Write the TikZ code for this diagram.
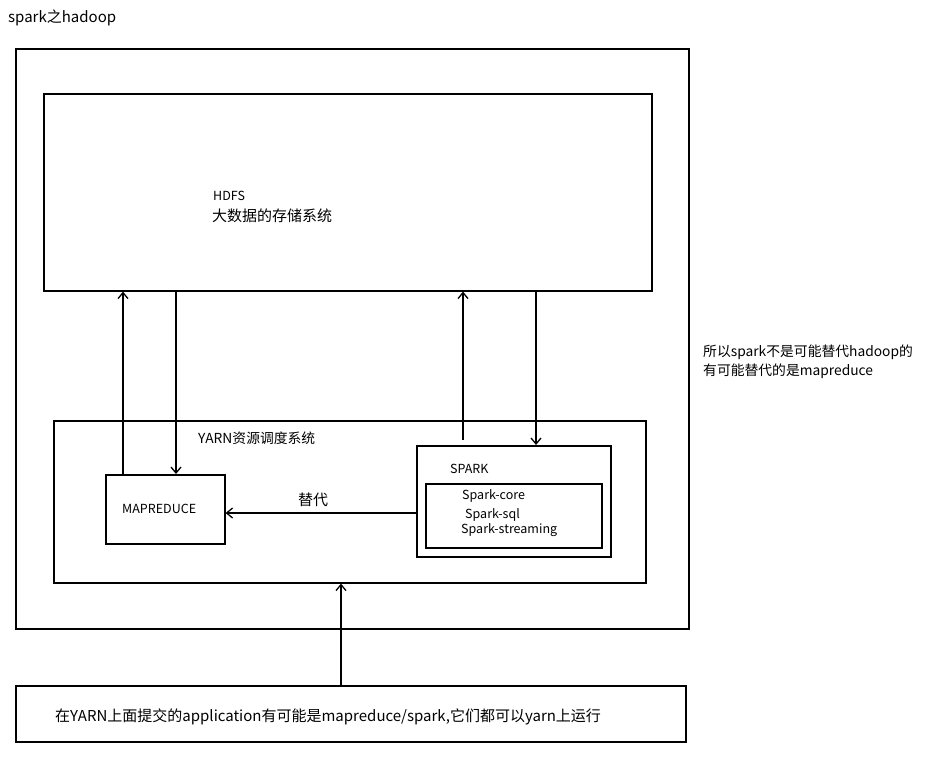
\documentclass[tikz,border=0pt]{standalone}
\usepackage{fontspec}
\setmainfont{Noto Sans CJK SC}
\usetikzlibrary{arrows.meta}
\begin{document}
\begin{tikzpicture}[x=1pt,y=-1pt,
  box/.style={draw,line width=1.6pt,inner sep=0pt,anchor=north west},
  arr/.style={line width=1.3pt,-{Straight Barb[length=6pt,width=10pt,line width=1.3pt]}},
  lbl/.style={anchor=west,inner sep=0pt,font=\fontsize{12.5}{14}\selectfont},
  big/.style={lbl,font=\fontsize{15}{17}\selectfont},
  mid/.style={lbl,font=\fontsize{13.8}{16}\selectfont}]
\useasboundingbox (0,0) rectangle (931,758);
\node[big] (title) at (8,18) {spark之hadoop};
\node[box,minimum width=673,minimum height=580] (outer) at (15,48) {};
\node[box,minimum width=608,minimum height=197] (hdfs) at (43,93) {};
\node[lbl] (hdfst) at (213,196) {HDFS};
\node[big] (hdfsd) at (212,216) {大数据的存储系统};
\node[box,minimum width=592,minimum height=162] (yarn) at (53,420) {};
\node[mid] (yarnt) at (198,438) {YARN资源调度系统};
\node[box,minimum width=119,minimum height=69] (map) at (105,474) {};
\node[lbl] (mapt) at (122,509) {MAPREDUCE};
\node[box,minimum width=194,minimum height=111] (spark) at (416,445) {};
\node[lbl] (sparkt) at (450,469) {SPARK};
\node[box,minimum width=176,minimum height=64] (inner) at (425,483) {};
\node[lbl] (s1) at (462,496) {Spark-core};
\node[lbl] (s2) at (465,515) {Spark-sql};
\node[lbl] (s3) at (461,530) {Spark-streaming};
\node[box,minimum width=670,minimum height=56] (bottom) at (15,685) {};
\node[big] (bt) at (55,717) {在YARN上面提交的application有可能是mapreduce/spark,它们都可以yarn上运行};
\node[mid] (r1) at (703,352) {所以spark不是可能替代hadoop的};
\node[mid] (r2) at (703,371) {有可能替代的是mapreduce};
\node[big] (rep) at (298,500) {替代};
\coordinate (xa) at (123,0);
\coordinate (xb) at (176,0);
\coordinate (xc) at (463,0);
\coordinate (xd) at (536,0);
\coordinate (xe) at (341,0);
\coordinate (ys) at (0,440);
\coordinate (ym) at (0,513);
\draw[arr] (map.north -| xa) -- (hdfs.south -| xa);
\draw[arr] (hdfs.south -| xb) -- (map.north -| xb);
\draw[arr] (ys -| xc) -- (hdfs.south -| xc);
\draw[arr] (hdfs.south -| xd) -- (spark.north -| xd);
\draw[arr] (spark.west |- ym) -- (map.east |- ym);
\draw[arr] (bottom.north -| xe) -- (yarn.south -| xe);
\end{tikzpicture}
\end{document}
